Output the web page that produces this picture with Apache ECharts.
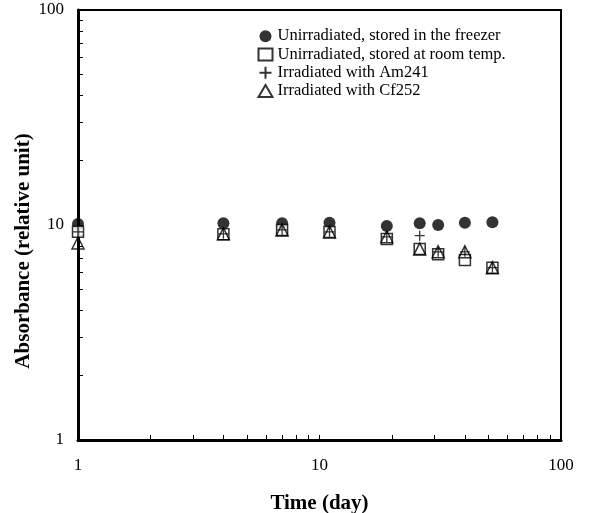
<!DOCTYPE html>
<html>
<head>
<meta charset="utf-8">
<script src="https://cdn.jsdelivr.net/npm/echarts@6/dist/echarts.min.js"></script>
<style>
  html, body { margin: 0; padding: 0; background: #fff; }
  #chart { width: 592px; height: 513px; }
</style>
</head>
<body>
<div id="chart"></div>
<script>
// storage time in days
const days = [1, 4, 7, 11, 19, 26, 31, 40, 52]

// absorbance (relative unit)
const freezer = [10.11, 10.18, 10.18, 10.25, 9.89, 10.18, 10.0, 10.25, 10.29]
const roomTemp = [9.31, 9.05, 9.48, 9.28, 8.61, 7.73, 7.31, 6.87, 6.33]
const am241 = [9.3, 9.1, 9.5, 9.3, 8.8, 8.92, 7.5, 7.5, 6.33]
const cf252 = [8.25, 9.1, 9.48, 9.28, 8.82, 7.73, 7.51, 7.51, 6.33]

const seriesNames = [
  'Unirradiated, stored in the freezer',
  'Unirradiated, stored at room temp.',
  'Irradiated with Am241',
  'Irradiated with Cf252',
]

// log ticks 1,2,...,9,10,20,...,100
const logTicks = [1, 2, 3, 4, 5, 6, 7, 8, 9, 10, 20, 30, 40, 50, 60, 70, 80, 90, 100]

const FONT = '"Liberation Serif", "DejaVu Serif", serif'
const PLUS = 'path://M0,5L10,5M5,0L5,10'

const pairs = (ys) => days.map((d, i) => [d, ys[i]])

const chart = echarts.init(document.getElementById('chart'), null, { renderer: 'canvas' })

const axisCommon = {
  type: 'log',
  logBase: 10,
  min: 1,
  max: 100,
  nameLocation: 'middle',
  nameMoveOverlap: false,
  nameTextStyle: { fontFamily: FONT, fontSize: 21, fontWeight: 'bold', color: '#000' },
  axisLine: { show: true, lineStyle: { color: '#000', width: 3 } },
  axisTick: { show: true, inside: true, length: 5, customValues: logTicks, lineStyle: { color: '#000', width: 1 } },
  axisLabel: { fontFamily: FONT, fontSize: 17, color: '#000' },
  splitLine: { show: false },
  minorTick: { show: false },
  minorSplitLine: { show: false },
}

chart.setOption({
  animation: false,
  backgroundColor: '#fff',
  grid: {
    left: 78, right: 31, top: 10, bottom: 73,
    outerBoundsMode: 'none',
    containLabel: false,
    show: true, borderColor: '#000', borderWidth: 2,
  },
  legend: {
    orient: 'vertical',
    left: 251,
    top: 22,
    itemWidth: 14,
    itemHeight: 12,
    itemGap: 0,
    data: seriesNames,
    textStyle: { fontFamily: FONT, fontSize: 16.5, lineHeight: 18.3, color: '#000' },
  },
  xAxis: {
    ...axisCommon,
    name: 'Time (day)',
    nameGap: 53,
    axisLabel: { ...axisCommon.axisLabel, margin: 17 },
  },
  yAxis: {
    ...axisCommon,
    name: 'Absorbance (relative unit)',
    nameGap: 44,
    // title sits a little below the middle of the axis in the original
    nameTextStyle: { ...axisCommon.nameTextStyle, padding: [0, 52, 0, 0] },
    axisLabel: { ...axisCommon.axisLabel, margin: 14 },
  },
  series: [
    {
      name: seriesNames[0],
      type: 'scatter',
      data: pairs(freezer),
      symbol: 'circle',
      symbolSize: 12,
      itemStyle: { color: '#000' },
      z: 2,
    },
    {
      name: seriesNames[1],
      type: 'scatter',
      data: pairs(roomTemp),
      symbol: 'rect',
      symbolSize: 11,
      itemStyle: { color: '#fff', borderColor: '#000', borderWidth: 1.5 },
      z: 3,
    },
    {
      name: seriesNames[2],
      type: 'scatter',
      data: pairs(am241),
      symbol: PLUS,
      symbolSize: 10,
      itemStyle: { color: 'none', borderColor: '#000', borderWidth: 1.3 },
      z: 4,
    },
    {
      name: seriesNames[3],
      type: 'scatter',
      data: pairs(cf252),
      symbol: 'triangle',
      symbolSize: 12,
      itemStyle: { color: 'none', borderColor: '#000', borderWidth: 1.5 },
      z: 5,
    },
  ],
})
</script>
</body>
</html>
